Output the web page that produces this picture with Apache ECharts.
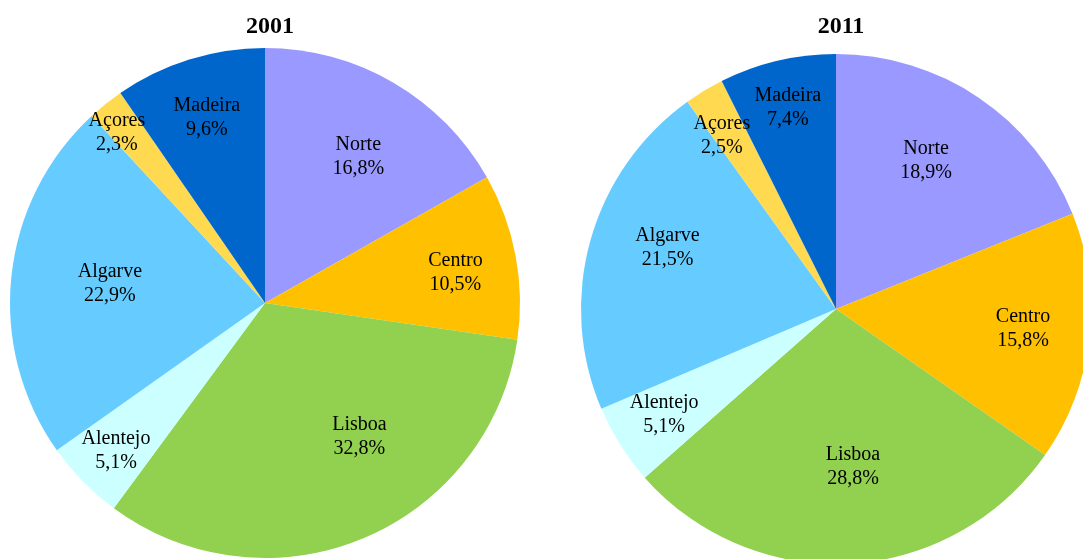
<!DOCTYPE html>
<html>
<head>
<meta charset="utf-8">
<script src="https://cdn.jsdelivr.net/npm/echarts@6/dist/echarts.min.js"></script>
<style>
  html, body { margin: 0; padding: 0; background: #fff; }
  #chart { width: 1083px; height: 559px; }
</style>
</head>
<body>
<div id="chart"></div>
<script>
// regiões e percentagens
const regions = ['Norte', 'Centro', 'Lisboa', 'Alentejo', 'Algarve', 'Açores', 'Madeira'];
const share2001 = [16.8, 10.5, 32.8, 5.1, 22.9, 2.3, 9.6];
const share2011 = [18.9, 15.8, 28.8, 5.1, 21.5, 2.5, 7.4];
const years = ['2001', '2011'];

const colors = ['#9999FF', '#FFC000', '#92D050', '#CCFFFF', '#66CCFF', '#FFD94F', '#0066CC'];
const serif = '"Liberation Serif", "DejaVu Serif", serif';

// posição das etiquetas à moda do Excel: fração do raio e desvio angular (graus)
const labelDist2001 = [0.67, 0.74, 0.62, 0.80, 0.60, 0.87, 0.75];
const labelTurn2001 = [2, 1, -13, 0, 2, -2, 0];
const labelDist2011 = [0.67, 0.72, 0.60, 0.77, 0.69, 0.80, 0.80];
const labelTurn2011 = [-3, -1, -3, 1, 5, -2, 0];

const R = 255;
const chart = echarts.init(document.getElementById('chart'));

function toData(values) {
  return regions.map((name, i) => ({ name: name, value: values[i] }));
}

function pieSeries(values, center, dist, turn) {
  return {
    type: 'pie',
    center: center,
    radius: [0, R],
    startAngle: 90,
    clockwise: true,
    silent: true,
    color: colors,
    itemStyle: { borderWidth: 0 },
    label: {
      show: true,
      position: 'inside', // fica a meio raio; o labelLayout reposiciona
      fontFamily: serif,
      fontSize: 20,
      lineHeight: 24,
      color: '#000',
      formatter: p => p.name + '\n' + p.value.toFixed(1).replace('.', ',') + '%'
    },
    labelLayout: params => {
      const r = params.labelRect;
      const ox = r.x + r.width / 2;
      const oy = r.y + r.height / 2;
      const vx = ox - center[0];
      const vy = oy - center[1];
      const len = Math.sqrt(vx * vx + vy * vy);
      const a = Math.atan2(vx, -vy) + turn[params.dataIndex] * Math.PI / 180;
      const nl = len * dist[params.dataIndex] / 0.5;
      return {
        dx: center[0] + nl * Math.sin(a) - ox,
        dy: center[1] - nl * Math.cos(a) - oy + 2,
        hideOverlap: false
      };
    },
    labelLine: { show: false },
    data: toData(values)
  };
}

chart.setOption({
  animation: false,
  title: [
    {
      text: years[0], left: 265, top: 10, textAlign: 'center',
      textStyle: { fontFamily: serif, fontSize: 24, fontWeight: 'bold', color: '#000' }
    },
    {
      text: years[1], left: 836, top: 10, textAlign: 'center',
      textStyle: { fontFamily: serif, fontSize: 24, fontWeight: 'bold', color: '#000' }
    }
  ],
  series: [
    pieSeries(share2001, [265, 303], labelDist2001, labelTurn2001),
    pieSeries(share2011, [836, 309], labelDist2011, labelTurn2011)
  ]
});
</script>
</body>
</html>
